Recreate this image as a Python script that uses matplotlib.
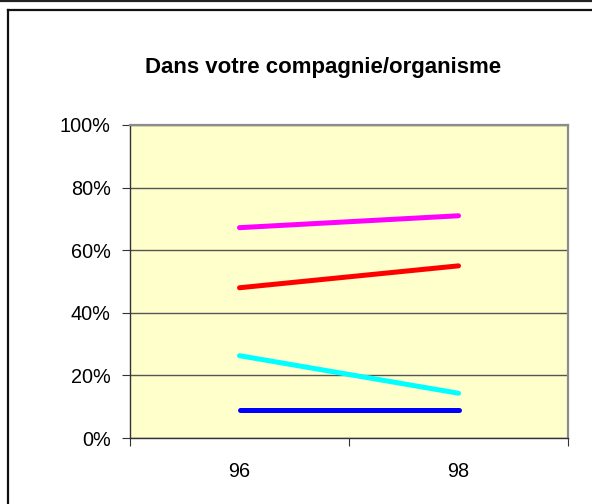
import matplotlib.pyplot as plt
from matplotlib.lines import Line2D

plt.rcParams['font.family'] = ['Liberation Sans', 'DejaVu Sans']

# data
years = ['96', '98']
series = {
    'magenta': [0.672, 0.710],
    'red': [0.480, 0.550],
    'cyan': [0.263, 0.143],
    'blue': [0.090, 0.090],
}
colours = {'magenta': '#FF00FF', 'red': '#FF0000', 'cyan': '#00FFFF', 'blue': '#0000FF'}
yticks = [0, 0.2, 0.4, 0.6, 0.8, 1.0]
ytick_labels = ['0%', '20%', '40%', '60%', '80%', '100%']

W, H = 592, 504
fig = plt.figure(figsize=(W / 100, H / 100), dpi=100)
fig.patch.set_facecolor('white')

ax = fig.add_axes([130 / W, 1 - 438 / H, (568 - 130) / W, (438 - 125) / H])
ax.set_facecolor('#FFFFCC')

xpos = [i + 0.5 for i in range(len(years))]
for name, vals in series.items():
    ax.plot(xpos, vals, color=colours[name], linewidth=3.6, solid_capstyle='round', zorder=3)

ax.set_xlim(0, len(years))
ax.set_ylim(0, 1)
ax.set_yticks(yticks)
ax.set_yticklabels(ytick_labels)
ax.set_xticks(range(len(years) + 1))
ax.set_xticklabels([])
ax.set_xticks(xpos, minor=True)
ax.set_xticklabels(years, minor=True)
ax.tick_params(axis='x', which='minor', length=0, pad=17, labelsize=14.3)
ax.tick_params(axis='x', which='major', length=6, direction='out', color='#333333')
ax.tick_params(axis='y', length=6, direction='out', pad=8, labelsize=14.3, color='#333333')

ax.yaxis.grid(True, color='#555555', linewidth=1.0)
ax.set_axisbelow(True)
for side in ['top', 'right']:
    ax.spines[side].set_color('#8C8C8C')
    ax.spines[side].set_linewidth(1.6)
for side in ['left', 'bottom']:
    ax.spines[side].set_color('#333333')
    ax.spines[side].set_linewidth(1.0)

fig.text(323.5 / W, 1 - 67 / H, 'Dans votre compagnie/organisme', ha='center', va='center',
         fontsize=16, fontweight='bold')

# outer frame
fig.add_artist(Line2D([0, 1], [1 - 1.2 / H, 1 - 1.2 / H], color='#222222', linewidth=1.6))
fig.add_artist(Line2D([7.5 / W, 1], [1 - 10 / H, 1 - 10 / H], color='#111111', linewidth=1.6))
fig.add_artist(Line2D([7.5 / W, 7.5 / W], [0, 1 - 10 / H], color='#111111', linewidth=1.6))

fig.savefig('out.png', dpi=100)
